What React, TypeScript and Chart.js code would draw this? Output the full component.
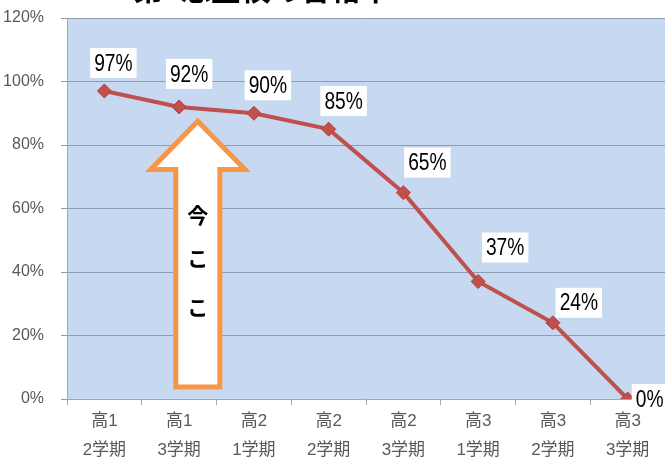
import React, { useEffect, useRef } from "react";
import { Chart, registerables } from "chart.js";

Chart.register(...registerables);

const categories: string[][] = [
  ["高1", "2学期"],
  ["高1", "3学期"],
  ["高2", "1学期"],
  ["高2", "2学期"],
  ["高2", "3学期"],
  ["高3", "1学期"],
  ["高3", "2学期"],
  ["高3", "3学期"],
];
const passRate: number[] = [97, 92, 90, 85, 65, 37, 24, 0];
const yTicks: number[] = [0, 20, 40, 60, 80, 100, 120];
const titleText = "第1志望校の合格率";
const arrowText: string[] = ["今", "こ", "こ"];

// label offsets (pixels) relative to each point
const labelOffsets: [number, number][] = [
  [9, -28], [10, -33], [14, -28], [15, -28], [24, -30], [27, -34], [26, -20], [22, 0],
];

const CJK = '"Liberation Sans", "Noto Sans CJK JP", sans-serif';

const bgPlugin = {
  id: "bgPlugin",
  beforeDraw(chart: any) {
    const { ctx, chartArea } = chart;
    ctx.save();
    ctx.fillStyle = "#c6d9f1";
    ctx.fillRect(chartArea.left, chartArea.top, chartArea.right - chartArea.left, chartArea.bottom - chartArea.top);
    ctx.restore();
  },
};

const arrowPlugin = {
  id: "arrowPlugin",
  beforeDatasetsDraw(chart: any) {
    const { ctx } = chart;
    const xs = chart.scales.x;
    const ys = chart.scales.y;
    const p1 = xs.getPixelForValue(1);
    const p2 = xs.getPixelForValue(2);
    const cx = p1 + 0.25 * (p2 - p1);
    const step = p2 - p1;
    const headHalf = step * 0.63;
    const shaftHalf = step * 0.295;
    const tip = ys.getPixelForValue(87.5);
    const base = ys.getPixelForValue(72.3);
    const bottom = ys.getPixelForValue(3.8);
    ctx.save();
    ctx.beginPath();
    ctx.moveTo(cx, tip);
    ctx.lineTo(cx + headHalf, base);
    ctx.lineTo(cx + shaftHalf, base);
    ctx.lineTo(cx + shaftHalf, bottom);
    ctx.lineTo(cx - shaftHalf, bottom);
    ctx.lineTo(cx - shaftHalf, base);
    ctx.lineTo(cx - headHalf, base);
    ctx.closePath();
    ctx.fillStyle = "#ffffff";
    ctx.fill();
    ctx.lineWidth = 5;
    ctx.lineJoin = "miter";
    ctx.strokeStyle = "#f79646";
    ctx.stroke();
    ctx.fillStyle = "#000000";
    ctx.font = 'bold 21px "Noto Sans CJK JP", sans-serif';
    ctx.textAlign = "center";
    ctx.textBaseline = "middle";
    const vals = [58, 44.5, 29];
    arrowText.forEach((t, i) => {
      ctx.fillText(t, cx, ys.getPixelForValue(vals[i]));
    });
    ctx.restore();
  },
};

const labelPlugin = {
  id: "labelPlugin",
  afterDatasetsDraw(chart: any) {
    const { ctx } = chart;
    const meta = chart.getDatasetMeta(0);
    const sx = 0.8;
    ctx.save();
    ctx.font = '24px "Liberation Sans", sans-serif';
    ctx.textAlign = "center";
    ctx.textBaseline = "middle";
    meta.data.forEach((pt: any, i: number) => {
      const txt = passRate[i] + "%";
      const [dx, dy] = labelOffsets[i];
      const w = ctx.measureText(txt).width * sx + 8;
      const h = 30;
      const x = pt.x + dx;
      const y = pt.y + dy;
      ctx.fillStyle = "#ffffff";
      ctx.fillRect(x - w / 2, y - h / 2, w, h);
      ctx.save();
      ctx.translate(x, y + 1);
      ctx.scale(sx, 1);
      ctx.fillStyle = "#000000";
      ctx.fillText(txt, 0, 0);
      ctx.restore();
    });
    ctx.restore();
  },
};

const titlePlugin = {
  id: "titlePlugin",
  afterDraw(chart: any) {
    const { ctx } = chart;
    ctx.save();
    ctx.font = 'bold 30px "Noto Sans CJK JP", sans-serif';
    ctx.fillStyle = "#000000";
    ctx.textAlign = "center";
    ctx.textBaseline = "ideographic";
    ctx.fillText(titleText, 262, 4);
    ctx.restore();
  },
};

export default function App() {
  const ref = useRef<HTMLCanvasElement | null>(null);
  useEffect(() => {
    document.body.style.margin = "0";
    const canvas = ref.current!;
    const chart = new Chart(canvas, {
      type: "line",
      data: {
        labels: categories,
        datasets: [
          {
            data: passRate,
            borderColor: "#c0504d",
            backgroundColor: "#c0504d",
            borderWidth: 4,
            pointStyle: "rectRot",
            pointRadius: 7,
            pointBorderWidth: 1,
            pointBackgroundColor: "#c0504d",
            pointBorderColor: "#b2403d",
            tension: 0,
          },
        ],
      },
      options: {
        animation: false,
        responsive: false,
        maintainAspectRatio: false,
        layout: { autoPadding: false, padding: { top: 18, right: 3, left: 0, bottom: 0 } },
        plugins: { legend: { display: false }, tooltip: { enabled: false }, title: { display: false } },
        scales: {
          x: {
            type: "category",
            offset: true,
            grid: { display: true, offset: true, drawOnChartArea: false, tickLength: 6, color: "#a6a6a6" },
            border: { color: "#a6a6a6", width: 1 },
            ticks: {
              color: "#595959",
              font: { family: CJK, size: 17, lineHeight: 1.7 },
              padding: 2,
              maxRotation: 0,
              autoSkip: false,
            },
            afterFit(scale: any) {
              scale.height = 65;
            },
          },
          y: {
            min: 0,
            max: 120,
            afterBuildTicks(scale: any) {
              scale.ticks = yTicks.map((v) => ({ value: v }));
            },
            grid: { color: "#8d9cb0", lineWidth: 1, tickLength: 6 },
            border: { color: "#a6a6a6", width: 1 },
            ticks: {
              color: "#595959",
              font: { family: '"Liberation Sans", sans-serif', size: 16 },
              padding: 17,
              callback: (v: any) => v + "%",
            },
            afterFit(scale: any) {
              scale.width = 67;
              scale.paddingTop = 0;
              scale.paddingBottom = 0;
            },
          },
        },
      },
      plugins: [bgPlugin, arrowPlugin, labelPlugin, titlePlugin],
    } as any);
    return () => chart.destroy();
  }, []);
  return <canvas ref={ref} width={668} height={464} style={{ display: "block" }} />;
}
